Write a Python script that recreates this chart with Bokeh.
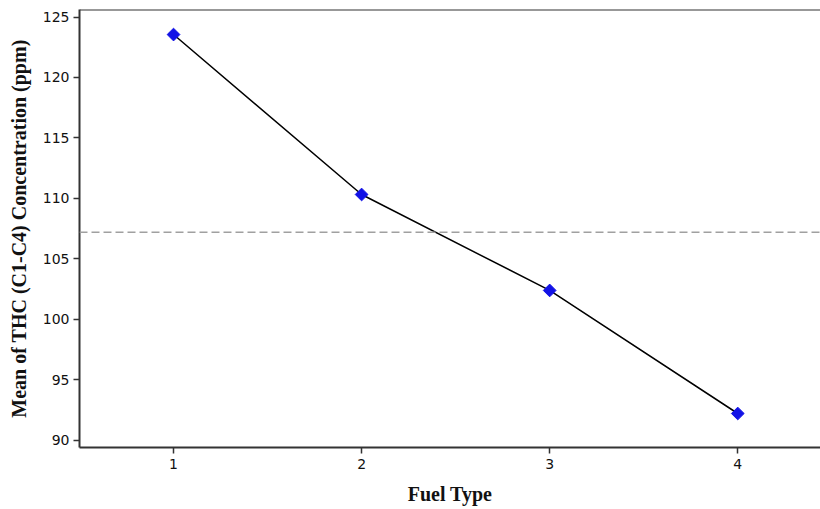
import numpy as np
from bokeh.plotting import figure
from bokeh.models import Span, FixedTicker, Range1d
from bokeh.embed import file_html
from bokeh.resources import INLINE

fuel_type = [1, 2, 3, 4]
thc_mean = [123.55, 110.33, 102.4, 92.23]
overall_mean = 107.2
y_ticks = [90, 95, 100, 105, 110, 115, 120, 125]
x_ticks = [1, 2, 3, 4]

p = figure(width=820, height=507, output_backend="svg", toolbar_location=None,
           x_range=Range1d(0.5, 4.44), y_range=Range1d(89.42, 125.62),
           min_border_left=79, min_border_right=0, min_border_top=9, min_border_bottom=60)
p.outline_line_color = None
p.xgrid.visible = False
p.ygrid.visible = False
p.background_fill_color = "white"

for ax in (p.xaxis[0], p.yaxis[0]):
    ax.axis_line_color = "#333333"
    ax.axis_line_width = 2
    ax.major_tick_line_color = "#333333"
    ax.major_tick_line_width = 1.5
    ax.major_tick_out = 6
    ax.major_tick_in = 0
    ax.minor_tick_line_color = None
    ax.major_label_text_font = "DejaVu Sans"
    ax.major_label_text_font_size = "14px"
    ax.major_label_text_color = "#111111"
    ax.axis_label_text_font = "Liberation Serif"
    ax.axis_label_text_font_style = "bold"
    ax.axis_label_text_font_size = "20px"
    ax.axis_label_text_color = "#111111"

p.xaxis.ticker = FixedTicker(ticks=x_ticks)
p.yaxis.ticker = FixedTicker(ticks=y_ticks)
p.xaxis.axis_label = "Fuel Type"
p.yaxis.axis_label = "Mean of THC (C1-C4) Concentration (ppm)"
p.xaxis.major_label_standoff = 5
p.yaxis.major_label_standoff = 4
p.xaxis.axis_label_standoff = 11
p.yaxis.axis_label_standoff = 10

top = Span(location=125.62, dimension="width", line_color="#333333", line_width=2)
p.add_layout(top)

mean_line = Span(location=overall_mean, dimension="width", line_color="#a0a0a0",
                 line_width=1.5, line_dash="8 4")
p.add_layout(mean_line)

p.line(fuel_type, thc_mean, line_color="black", line_width=1.5)
p.scatter(fuel_type, thc_mean, marker="square", size=9, angle=np.pi / 4,
          fill_color="#1212E6", line_color="#1212E6")

open("out.html", "w").write(file_html(p, INLINE))
